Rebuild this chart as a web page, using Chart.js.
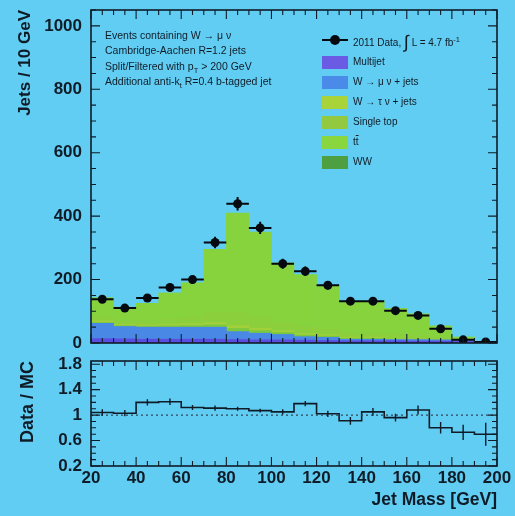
<!DOCTYPE html>
<html>
<head>
<meta charset="utf-8">
<script src="https://cdn.jsdelivr.net/npm/chart.js@4.4.1/dist/chart.umd.min.js"></script>
<style>
  html, body { margin: 0; padding: 0; width: 515px; height: 516px; overflow: hidden;
    background: #62cdf2; font-family: "Liberation Sans", Arial, sans-serif; color: #0f1c28; }
  canvas { position: absolute; left: 0; }
  #main { top: 0; }
  #ratio { top: 348px; }
  .txt { position: absolute; font-size: 10px; line-height: 12px; white-space: nowrap; }
  .note { font-size: 10.5px; }
  .sw { position: absolute; left: 322px; width: 26px; height: 13px; }
  sub, sup { font-size: 7.5px; line-height: 0; }
</style>
</head>
<body>
<canvas id="main" width="515" height="356"></canvas>
<canvas id="ratio" width="515" height="168"></canvas>

<div class="txt note" style="left:105px;top:29px">Events containing W → μ ν</div>
<div class="txt note" style="left:105px;top:44px">Cambridge-Aachen R=1.2 jets</div>
<div class="txt note" style="left:105px;top:60px">Split/Filtered with p<sub>T</sub> &gt; 200 GeV</div>
<div class="txt note" style="left:105px;top:75px">Additional anti-k<sub>t</sub> R=0.4 b-tagged jet</div>

<div style="position:absolute;left:322px;top:39px;width:26px;height:2px;background:#050a10"></div>
<div style="position:absolute;left:330px;top:35px;width:10px;height:10px;border-radius:50%;background:#050a10"></div>
<div class="txt" style="left:353px;top:34px">2011 Data, <span style="font-size:18px;position:relative;top:2px">∫</span> L = 4.7 fb<sup>-1</sup></div>

<div class="sw" style="top:56px;background:#6a5ae4"></div>
<div class="txt" style="left:353px;top:56px">Multijet</div>
<div class="sw" style="top:76px;background:#4a8ae8"></div>
<div class="txt" style="left:353px;top:76px">W → μ ν + jets</div>
<div class="sw" style="top:96px;background:#a8d43a"></div>
<div class="txt" style="left:353px;top:96px">W → τ ν + jets</div>
<div class="sw" style="top:116px;background:#92c93e"></div>
<div class="txt" style="left:353px;top:116px">Single top</div>
<div class="sw" style="top:136px;background:#8ad63e"></div>
<div class="txt" style="left:353px;top:136px">t<span style="text-decoration:overline">t</span></div>
<div class="sw" style="top:156px;background:#4e9f3f"></div>
<div class="txt" style="left:353px;top:156px">WW</div>

<script>
// Jet mass histogram: 10 GeV bins from 20 to 200 GeV
const binCenters = [25, 35, 45, 55, 65, 75, 85, 95, 105, 115, 125, 135, 145, 155, 165, 175, 185, 195];

// 2011 data (events per bin) and statistical errors
const dataCounts = [138, 110, 142, 175, 200, 317, 439, 363, 250, 226, 182, 132, 132, 102, 87, 45, 10, 3];
const dataErrors = [12, 10, 12, 13, 14, 18, 21, 19, 16, 15, 13, 11, 11, 10, 9, 7, 3, 2];

// Simulated backgrounds, stacked
const multijet  = [14, 13, 12, 12, 12, 12, 11, 10, 10, 9, 8, 7, 7, 7, 6, 6, 5, 2];
const wMuNu     = [48, 39, 38, 38, 38, 38, 25, 21, 17, 11, 10, 5, 5, 4, 5, 4, 3, 2];
const diboson   = [3, 3, 3, 4, 5, 7, 10, 8, 6, 5, 4, 3, 3, 2, 2, 1, 0, 0];
const wTauNu    = [5, 4, 4, 5, 6, 8, 9, 8, 6, 5, 4, 3, 3, 2, 2, 1, 1, 0];
const singleTop = [12, 10, 12, 16, 20, 30, 40, 36, 26, 22, 18, 14, 13, 11, 9, 5, 2, 0];
const ttbar     = [61, 44, 56, 83, 109, 200, 315, 267, 188, 164, 136, 100, 101, 83, 68, 37, 8, 0];

// Data / MC ratio per bin
const ratioValues = [1.04, 1.03, 1.2, 1.21, 1.12, 1.11, 1.1, 1.07, 1.05, 1.18, 1.02, 0.91, 1.05, 0.96, 1.08, 0.8, 0.73, 0.7];
const ratioErrors = [0.05, 0.05, 0.05, 0.05, 0.04, 0.04, 0.03, 0.03, 0.04, 0.04, 0.05, 0.06, 0.06, 0.06, 0.07, 0.09, 0.12, 0.18];
const ratioTickValues = [0.2, 0.6, 1, 1.4, 1.8];

const BIN_HALF = 5;
const INK = '#0f1c28';
const FAMILY = '"Liberation Sans", Arial, sans-serif';
const tickFont = { family: FAMILY, size: 17, weight: 'bold' };
const titleFont = { family: FAMILY, size: 17, weight: 'bold' };

const pts = arr => binCenters.map((x, i) => ({ x, y: arr[i] }));

// Fixed-width left axis; the layout padding already leaves room for edge labels
function fixLeftAxis(s) {
  s.width = 91;
  s.paddingTop = 0;
  s.paddingBottom = 0;
}

// Inward ticks on all four sides plus the frame
const frameTicks = {
  id: 'frameTicks',
  afterDatasetsDraw(chart, args, o) {
    const { ctx, chartArea: a, scales: { x, y } } = chart;
    const isMajor = (v, from, step) => {
      const k = (v - from) / step;
      return Math.abs(k - Math.round(k)) < 1e-6;
    };
    ctx.save();
    ctx.strokeStyle = INK;
    ctx.lineWidth = 1.1;
    ctx.beginPath();
    const nx = Math.round((x.max - x.min) / o.xMinor);
    for (let i = 0; i <= nx; i++) {
      const v = x.min + i * o.xMinor;
      const px = x.getPixelForValue(v);
      const L = isMajor(v, o.xFrom, o.xMajor) ? 9 : 5;
      ctx.moveTo(px, a.bottom); ctx.lineTo(px, a.bottom - L);
      ctx.moveTo(px, a.top); ctx.lineTo(px, a.top + L);
    }
    const ny = Math.floor((y.max - o.yFrom) / o.yMinor + 1e-6);
    for (let i = 0; i <= ny; i++) {
      const v = o.yFrom + i * o.yMinor;
      const py = y.getPixelForValue(v);
      const L = isMajor(v, o.yFrom, o.yMajor) ? 9 : 5;
      ctx.moveTo(a.left, py); ctx.lineTo(a.left + L, py);
      ctx.moveTo(a.right, py); ctx.lineTo(a.right - L, py);
    }
    ctx.stroke();
    ctx.lineWidth = 1.6;
    ctx.strokeRect(a.left, a.top, a.right - a.left, a.bottom - a.top);
    ctx.restore();
  }
};

// Vertical (and optional horizontal bin-width) error bars
const errorBars = {
  id: 'errorBars',
  afterDatasetsDraw(chart) {
    const { ctx, scales: { x, y } } = chart;
    chart.data.datasets.forEach(ds => {
      if (!ds.errors) return;
      ctx.save();
      ctx.strokeStyle = ds.barColor || INK;
      ctx.lineWidth = ds.barWidth || 1.5;
      ctx.beginPath();
      ds.data.forEach((p, i) => {
        const px = x.getPixelForValue(p.x);
        const py = y.getPixelForValue(p.y);
        const e = ds.errors[i];
        ctx.moveTo(px, y.getPixelForValue(p.y - e));
        ctx.lineTo(px, y.getPixelForValue(p.y + e));
        if (ds.binHalf) {
          ctx.moveTo(x.getPixelForValue(p.x - ds.binHalf), py);
          ctx.lineTo(x.getPixelForValue(p.x + ds.binHalf), py);
        }
      });
      ctx.stroke();
      ctx.restore();
    });
  }
};

const barDefaults = { stack: 'mc', borderWidth: 0, barPercentage: 1, categoryPercentage: 1 };

new Chart(document.getElementById('main'), {
  type: 'bar',
  data: {
    datasets: [
      { label: 'Multijet', data: pts(multijet), backgroundColor: '#5a4ee0', ...barDefaults },
      { label: 'W → μ ν + jets', data: pts(wMuNu), backgroundColor: '#4a88e6', ...barDefaults },
      { label: 'WW', data: pts(diboson), backgroundColor: '#7cc83c', ...barDefaults },
      { label: 'W → τ ν + jets', data: pts(wTauNu), backgroundColor: '#a2d03a', ...barDefaults },
      { label: 'Single top', data: pts(singleTop), backgroundColor: '#8ccf3c', ...barDefaults },
      { label: 'tt̄', data: pts(ttbar), backgroundColor: '#86d33e', ...barDefaults },
      {
        type: 'line', label: '2011 Data', data: pts(dataCounts), stack: 'data', order: -1,
        showLine: false, pointRadius: 4.5, pointBackgroundColor: '#050a10', pointBorderWidth: 0,
        errors: dataErrors, binHalf: BIN_HALF, barWidth: 2, barColor: '#050a10'
      }
    ]
  },
  options: {
    responsive: false, animation: false, devicePixelRatio: 1,
    layout: { padding: { left: 0, right: 18, top: 10, bottom: 13 } },
    plugins: {
      legend: { display: false }, tooltip: { enabled: false },
      frameTicks: { xMinor: 5, xMajor: 20, xFrom: 20, yMinor: 50, yMajor: 200, yFrom: 0 }
    },
    scales: {
      x: { type: 'linear', min: 20, max: 200, offset: false, stacked: true, display: false },
      y: {
        stacked: true, min: 0, max: 1050,
        ticks: { stepSize: 200, includeBounds: false, font: tickFont, color: INK, padding: 9, callback: v => String(v) },
        grid: { display: false, drawTicks: false }, border: { display: false },
        title: { display: true, text: 'Jets / 10 GeV', align: 'end', font: titleFont, color: INK, padding: { top: 15, bottom: 0 } },
        afterFit: fixLeftAxis
      }
    }
  },
  plugins: [errorBars, frameTicks]
});

// Ratio histogram drawn as a step line over bin edges
const ratioSteps = binCenters.map((c, i) => ({ x: c - BIN_HALF, y: ratioValues[i] }));
ratioSteps.push({ x: binCenters[binCenters.length - 1] + BIN_HALF, y: ratioValues[ratioValues.length - 1] });

new Chart(document.getElementById('ratio'), {
  type: 'line',
  data: {
    datasets: [
      { data: [{ x: 20, y: 1 }, { x: 200, y: 1 }], borderColor: '#33465a', borderWidth: 1.2, borderDash: [2, 3], pointRadius: 0 },
      { data: ratioSteps, stepped: 'before', borderColor: INK, borderWidth: 1.6, pointRadius: 0, fill: false },
      { data: pts(ratioValues), showLine: false, pointRadius: 0, errors: ratioErrors, barWidth: 1.4 }
    ]
  },
  options: {
    responsive: false, animation: false, devicePixelRatio: 1,
    layout: { padding: { left: 0, right: 18, top: 13, bottom: 0 } },
    plugins: {
      legend: { display: false }, tooltip: { enabled: false },
      frameTicks: { xMinor: 5, xMajor: 20, xFrom: 20, yMinor: 0.1, yMajor: 0.4, yFrom: 0.2 }
    },
    scales: {
      x: {
        type: 'linear', min: 20, max: 200,
        ticks: { stepSize: 20, font: tickFont, color: INK, padding: 2, maxRotation: 0 },
        grid: { display: false, drawTicks: false }, border: { display: false },
        title: { display: true, text: 'Jet Mass [GeV]', align: 'end', font: { ...titleFont, size: 17.5 }, color: INK, padding: { top: 0, bottom: 5 } },
        afterFit(s) { s.height = 50; }
      },
      y: {
        min: 0.2, max: 1.85,
        afterBuildTicks(s) { s.ticks = ratioTickValues.map(v => ({ value: v })); },
        ticks: { font: tickFont, color: INK, padding: 9, callback: v => String(v) },
        grid: { display: false, drawTicks: false }, border: { display: false },
        title: { display: true, text: 'Data / MC', align: 'end', font: { ...titleFont, size: 18 }, color: INK, padding: { top: 17, bottom: 0 } },
        afterFit: fixLeftAxis
      }
    }
  },
  plugins: [errorBars, frameTicks]
});
</script>
</body>
</html>
